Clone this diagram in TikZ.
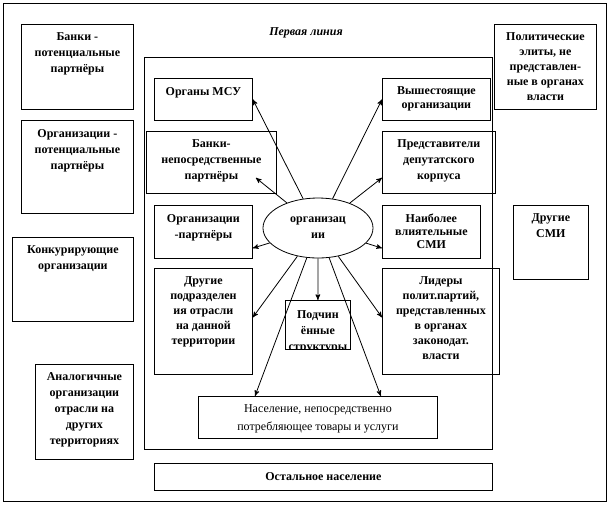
\documentclass[tikz,border=0pt]{standalone}
\usepackage{fontspec}
\setmainfont{Liberation Serif}
\usetikzlibrary{positioning}
\usetikzlibrary{arrows}
\usetikzlibrary{shapes.geometric, arrows}

\begin{document}
\begin{tikzpicture}[x=0.75pt,y=-0.75pt,>=stealth',line width=0.6pt,
  box/.style 2 args={draw,anchor=north west,inner sep=0pt,
    minimum width=#1*0.75pt,minimum height=#2*0.75pt},
  lbl/.style={font=\bfseries\fontsize{9}{#1}\selectfont,align=center,
    inner sep=0pt,anchor=north,yshift=-6.5pt},
  lbl/.default=12,
  plain lbl/.style={lbl,font=\fontsize{9}{#1}\selectfont},
  main node/.style={font=\bfseries\fontsize{9}{12}\selectfont,align=center}]

  \useasboundingbox (0,0) rectangle (613,504);
  \draw (3,3) rectangle (606,501);
  \draw (144,57) rectangle (492,449);
  \node (18) at (306,33) {\fontsize{9}{12}\selectfont\bfseries\itshape Первая линия};

  % outside the first line
  \node[box={112}{85},label={[lbl]north:{Банки -\\потенциальные\\партнёры}}] (12) at (21,24) {};
  \node[box={112}{93},label={[lbl]north:{Организации -\\потенциальные\\партнёры}}] (13) at (21,120) {};
  \node[box={121}{84},label={[lbl]north:{Конкурирующие\\организации}}] (14) at (12,237) {};
  \node[box={98}{95},label={[lbl]north:{Аналогичные\\организации\\отрасли на\\других\\территориях}}] (15) at (35,364) {};
  \node[box={102}{85},label={[lbl=11.25]north:{Политические\\элиты, не\\представлен-\\ные в органах\\власти}}] (16) at (494,24) {};
  \node[box={75}{74},label={[lbl]north:{Другие\\СМИ}}] (17) at (513,205) {};

  % first line
  \node[main node,draw,ellipse,minimum width=82.5pt,minimum height=45pt,inner sep=0pt] (0) at (318,228) {организац\\ии};
  \node[box={98}{42},label={[lbl]north:{Органы МСУ}}] (1) at (154,78) {};
  \node[box={108}{42},label={[lbl=10.5]north:{Вышестоящие\\организации}}] (2) at (382,78) {};
  \node[box={130}{62},label={[lbl]north:{Банки-\\непосредственные\\партнёры}}] (3) at (146,131) {};
  \node[box={113}{62},label={[lbl]north:{Представители\\депутатского\\корпуса}}] (4) at (382,131) {};
  \node[box={98}{53},label={[lbl]north:{Организации\\-партнёры}}] (5) at (154,205) {};
  \node[box={98}{53},label={[lbl=9.75]north:{Наиболее\\влиятельные\\СМИ}}] (6) at (382,205) {};
  \node[box={98}{106},label={[lbl=11.25]north:{Другие\\подразделен\\ия отрасли\\на данной\\территории}}] (7) at (154,268) {};
  \node[box={65}{49}] (8) at (285,300) {};
  \begin{scope}
    \clip (285,300) rectangle (350,349);
    \node[lbl=12,yshift=-1.5pt] at (8.north) {Подчин\\ённые\\структуры};
  \end{scope}
  \node[box={117}{106},label={[lbl=11.25]north:{Лидеры\\полит.партий,\\представленных\\в органах\\законодат.\\власти}}] (9) at (382,268) {};
  \node[box={239}{42},label={[plain lbl=13.5]north:{Население, непосредственно\\потребляющее товары и услуги}}] (10) at (198,396) {};
  \node[box={338}{27},main node] (11) at (154,463) {Остальное население};

  \path[->]
    (0) edge (1.east)
    (0) edge (2.west)
    (0) edge ([xshift=-15.75pt,yshift=12pt]3.south east)
    (0) edge ([yshift=12pt]4.south west)
    (0) edge ([yshift=8pt]5.south east)
    (0) edge ([yshift=8pt]6.south west)
    (0) edge ([yshift=3pt]7.east)
    (0) edge (8.north)
    (0) edge ([yshift=3pt]9.west)
    (0) edge ([xshift=42.75pt]10.north west)
    (0) edge ([xshift=-42.75pt]10.north east);
\end{tikzpicture}
\end{document}
